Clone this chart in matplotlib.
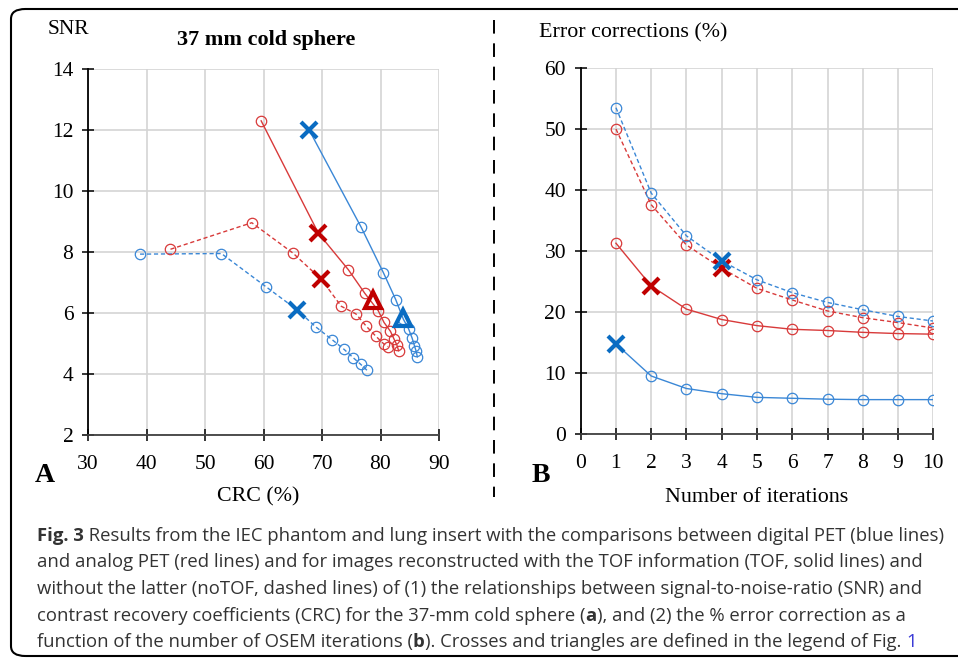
import matplotlib
matplotlib.use("Agg")
import matplotlib.pyplot as plt
from matplotlib.patches import FancyBboxPatch
from matplotlib.lines import Line2D

W, H = 958, 659

# panel A: SNR vs CRC, 10 OSEM iterations per curve
crc_dig_tof = [67.8, 76.7, 80.5, 82.6, 83.9, 84.8, 85.4, 85.8, 86.1, 86.3]
snr_dig_tof = [12.0, 8.81, 7.32, 6.44, 5.80, 5.48, 5.18, 4.93, 4.74, 4.56]
crc_ana_tof = [59.6, 69.4, 74.5, 77.3, 79.6, 80.6, 81.7, 82.3, 82.8, 83.1]
snr_ana_tof = [12.3, 8.61, 7.42, 6.65, 6.08, 5.69, 5.40, 5.15, 4.95, 4.76]
crc_dig_notof = [38.9, 52.8, 60.5, 65.7, 68.9, 71.7, 73.7, 75.3, 76.6, 77.7]
snr_dig_notof = [7.93, 7.95, 6.85, 6.11, 5.55, 5.13, 4.82, 4.54, 4.32, 4.12]
crc_ana_notof = [44.1, 58.0, 65.0, 69.9, 73.3, 75.8, 77.6, 79.2, 80.6, 81.3]
snr_ana_notof = [8.09, 8.96, 7.97, 7.10, 6.22, 5.97, 5.56, 5.24, 4.98, 4.90]
tri_dig = (83.8, 5.84)
tri_ana = (78.8, 6.44)
crc_ticks = [30, 40, 50, 60, 70, 80, 90]
snr_ticks = [2, 4, 6, 8, 10, 12, 14]

# panel B: error corrections vs iterations
iterations = [1, 2, 3, 4, 5, 6, 7, 8, 9, 10]
err_dig_tof = [14.8, 9.55, 7.5, 6.65, 6.05, 5.9, 5.75, 5.68, 5.68, 5.68]
err_ana_tof = [31.3, 24.3, 20.5, 18.8, 17.8, 17.2, 17.0, 16.7, 16.5, 16.4]
err_dig_notof = [53.5, 39.5, 32.5, 28.4, 25.3, 23.2, 21.6, 20.4, 19.3, 18.55]
err_ana_notof = [50.0, 37.6, 31.0, 27.2, 23.9, 22.0, 20.2, 19.1, 18.3, 17.4]
iter_ticks = [0, 1, 2, 3, 4, 5, 6, 7, 8, 9, 10]
err_ticks = [0, 10, 20, 30, 40, 50, 60]

# which iteration carries a cross instead of a circle
x_dig_tof, x_ana_tof, x_dig_notof, x_ana_notof = 0, 1, 3, 3

blue, blue_dark = "#3a87d6", "#0a6cc2"
red, red_dark = "#d83a3a", "#c00000"

serif = "Liberation Serif"
plt.rcParams["font.family"] = serif

fig = plt.figure(figsize=(W / 100, H / 100), dpi=100)


def fx(x):
    return x / W


def fy(y):
    return 1 - y / H


def series(ax, xs, ys, color, ls, xi, xcolor):
    keep = [i for i in range(len(xs)) if i != xi]
    ax.plot(xs, ys, color=color, lw=1.0, ls=ls, dashes=(3, 2) if ls == "--" else (None, None),
            zorder=3)
    ax.plot([xs[i] for i in keep], [ys[i] for i in keep], ls="none", marker="o", ms=7.5,
            mfc="none", mec=color, mew=0.9, zorder=4)
    ax.plot([xs[xi]], [ys[xi]], ls="none", marker="x", ms=11, mew=3, color=xcolor, zorder=5)


def style(ax, xt, yt):
    ax.set_xticks(xt, [str(v) for v in xt], fontfamily=serif, fontsize=15.5)
    ax.set_yticks(yt, [str(v) for v in yt], fontfamily=serif, fontsize=15.5)
    ax.grid(True, color="#d4d4d4", lw=1.2)
    ax.set_axisbelow(True)
    for s in ("top", "right"):
        ax.spines[s].set_visible(False)
    ax.spines["left"].set_color("black")
    ax.spines["left"].set_linewidth(1.3)
    ax.spines["bottom"].set_color("#404040")
    ax.spines["bottom"].set_linewidth(1.3)
    ax.tick_params(direction="inout", length=9, width=1.1, pad=6)
    ax.tick_params(axis="x", pad=10)


axA = fig.add_axes([fx(88), fy(435), fx(439 - 88), (435 - 69) / H])
series(axA, crc_ana_tof, snr_ana_tof, red, "-", x_ana_tof, red_dark)
series(axA, crc_dig_tof, snr_dig_tof, blue, "-", x_dig_tof, blue_dark)
series(axA, crc_ana_notof, snr_ana_notof, red, "--", x_ana_notof, red_dark)
series(axA, crc_dig_notof, snr_dig_notof, blue, "--", x_dig_notof, blue_dark)
axA.plot([tri_ana[0]], [tri_ana[1]], ls="none", marker="^", ms=11, mfc="none", mec=red_dark,
         mew=3, zorder=6)
axA.plot([tri_dig[0]], [tri_dig[1]], ls="none", marker="^", ms=11, mfc="none", mec=blue_dark,
         mew=3, zorder=6)
axA.set_xlim(30, 90)
axA.set_ylim(2, 14)
style(axA, crc_ticks, snr_ticks)

axB = fig.add_axes([fx(580.7), fy(434.3), fx(933.3 - 580.7), (434.3 - 68) / H])
series(axB, iterations, err_ana_tof, red, "-", x_ana_tof, red_dark)
series(axB, iterations, err_dig_tof, blue, "-", x_dig_tof, blue_dark)
series(axB, iterations, err_ana_notof, red, "--", x_ana_notof, red_dark)
series(axB, iterations, err_dig_notof, blue, "--", x_dig_notof, blue_dark)
axB.set_xlim(0, 10)
axB.set_ylim(0, 60)
style(axB, iter_ticks, err_ticks)

# panel texts
fig.text(fx(48), fy(29), "SNR", fontsize=15.5, va="center", ha="left")
fig.text(fx(266), fy(40), "37 mm cold sphere", fontsize=16, fontweight="bold", va="center",
         ha="center")
fig.text(fx(45), fy(476), "A", fontsize=20, fontweight="bold", va="center", ha="center")
fig.text(fx(258), fy(497), "CRC (%)", fontsize=15.8, va="center", ha="center")
fig.text(fx(539), fy(33), "Error corrections (%)", fontsize=15.8, va="center", ha="left")
fig.text(fx(541), fy(476), "B", fontsize=20, fontweight="bold", va="center", ha="center")
fig.text(fx(757), fy(497), "Number of iterations", fontsize=15.8, va="center", ha="center")

# frame and divider
fig.patches.append(FancyBboxPatch((fx(11), fy(656)), fx(990 - 11), (656 - 9) / H,
                                  boxstyle="round,pad=0,rounding_size=0.015",
                                  transform=fig.transFigure, fill=False, ec="black", lw=1.5))
fig.lines.append(Line2D([fx(494), fx(494)], [fy(20), fy(497)], transform=fig.transFigure,
                        color="black", lw=1.4, dashes=(7, 5)))

# caption, drawn piece by piece so bold words and the link keep their place
cap_font = "Open Sans"
cap_color = "#333333"
cap_lines = [
    [("Fig. 3", "bold", cap_color), (" Results from the IEC phantom and lung insert with the comparisons between digital PET (blue lines)", "normal", cap_color)],
    [("and analog PET (red lines) and for images reconstructed with the TOF information (TOF, solid lines) and", "normal", cap_color)],
    [("without the latter (noTOF, dashed lines) of (1) the relationships between signal-to-noise-ratio (SNR) and", "normal", cap_color)],
    [("contrast recovery coefficients (CRC) for the 37-mm cold sphere (", "normal", cap_color), ("a", "bold", cap_color), ("), and (2) the % error correction as a", "normal", cap_color)],
    [("function of the number of OSEM iterations (", "normal", cap_color), ("b", "bold", cap_color), ("). Crosses and triangles are defined in the legend of Fig. ", "normal", cap_color), ("1", "normal", "#3b3bd6")],
]
baselines = [540.7, 567.3, 594.0, 620.7, 647.3]
renderer = fig.canvas.get_renderer()
for parts, yb in zip(cap_lines, baselines):
    x = 37.0
    for txt, weight, col in parts:
        t = fig.text(fx(x), fy(yb), txt, fontsize=13.3, fontweight=weight, color=col,
                     family=cap_font, va="baseline", ha="left")
        x += t.get_window_extent(renderer).width

fig.savefig("out.png", dpi=100)
